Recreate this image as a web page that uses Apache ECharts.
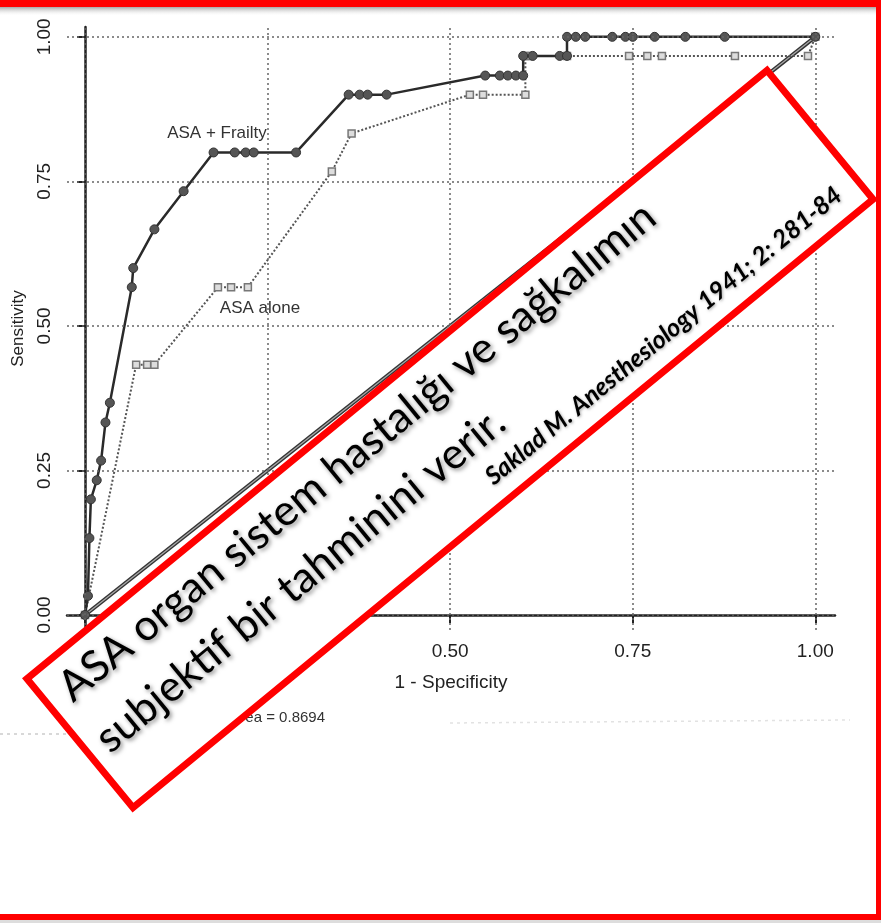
<!DOCTYPE html>
<html>
<head>
<meta charset="utf-8">
<script src="https://cdn.jsdelivr.net/npm/echarts@6/dist/echarts.min.js"></script>
<style>
html, body { margin: 0; padding: 0; background: #fff; }
#chart { width: 881px; height: 923px; }
</style>
</head>
<body>
<div id="chart"></div>
<script>
// ROC egrileri (okunan degerler)
var xTicks = [0, 0.25, 0.5, 0.75, 1];
var yTicks = [0, 0.25, 0.5, 0.75, 1];

var frailtyFpr = [0, 0.004, 0.006, 0.008, 0.016, 0.022, 0.028, 0.034, 0.064, 0.066, 0.095, 0.135,
    0.176, 0.205, 0.22, 0.231, 0.289, 0.361, 0.376, 0.387, 0.413, 0.548, 0.568, 0.579, 0.59, 0.6,
    0.6, 0.613, 0.65, 0.66, 0.66, 0.672, 0.685, 0.722, 0.74, 0.75, 0.78, 0.822, 0.876, 1.0];
var frailtySens = [0, 0.033, 0.133, 0.2, 0.233, 0.267, 0.333, 0.367, 0.567, 0.6, 0.667, 0.733,
    0.8, 0.8, 0.8, 0.8, 0.8, 0.9, 0.9, 0.9, 0.9, 0.933, 0.933, 0.933, 0.933, 0.933,
    0.967, 0.967, 0.967, 0.967, 1.0, 1.0, 1.0, 1.0, 1.0, 1.0, 1.0, 1.0, 1.0, 1.0];

var asaFpr = [0, 0.07, 0.085, 0.095, 0.182, 0.2, 0.223, 0.338, 0.365, 0.527, 0.545, 0.603,
    0.603, 0.61, 0.66, 0.745, 0.77, 0.79, 0.89, 0.99, 1.0];
var asaSens = [0, 0.433, 0.433, 0.433, 0.567, 0.567, 0.567, 0.767, 0.833, 0.9, 0.9, 0.9,
    0.967, 0.967, 0.967, 0.967, 0.967, 0.967, 0.967, 0.967, 1.0];

var diagX = [0, 1];
var diagY = [0, 1];

function pairs(xs, ys) {
    return xs.map(function (x, i) { return [x, ys[i]]; });
}

var gridMarks = xTicks.map(function (v) { return { xAxis: v }; })
    .concat(yTicks.map(function (v) { return { yAxis: v }; }));

var chart = echarts.init(document.getElementById('chart'));
var axisFont = 'Liberation Sans, Arial, sans-serif';
var boxFont = 'Lato, "Open Sans", sans-serif';
var shadow = { textShadowColor: 'rgba(0,0,0,0.45)', textShadowBlur: 4, textShadowOffsetX: 2, textShadowOffsetY: 2 };

var option = {
    animation: false,
    backgroundColor: '#fff',
    grid: { left: 67, right: 46, top: 27, bottom: 293 },
    xAxis: {
        type: 'value',
        min: -0.0247,
        max: 1.027,
        name: '1 - Specificity',
        nameLocation: 'middle',
        nameGap: 43,
        nameTextStyle: { fontSize: 19, color: '#222', fontFamily: axisFont },
        axisLine: { lineStyle: { color: '#222', width: 2.5 } },
        axisTick: { customValues: xTicks, length: 8, lineStyle: { color: '#222', width: 2 } },
        axisLabel: {
            customValues: xTicks, margin: 12, fontSize: 19, color: '#222', fontFamily: axisFont,
            formatter: function (v) { return v.toFixed(2); }
        },
        splitLine: { show: false }
    },
    yAxis: {
        type: 'value',
        min: -0.026,
        max: 1.017,
        name: 'Sensitivity',
        nameLocation: 'middle',
        nameRotate: 90,
        nameGap: 39,
        nameTextStyle: { fontSize: 17, color: '#222', fontFamily: axisFont },
        axisLine: { lineStyle: { color: '#222', width: 2.5 } },
        axisTick: { customValues: yTicks, length: 8, lineStyle: { color: '#222', width: 2 } },
        axisLabel: {
            customValues: yTicks, rotate: 90, margin: 13, fontSize: 19, color: '#222', fontFamily: axisFont,
            formatter: function (v) { return v.toFixed(2); }
        },
        splitLine: { show: false }
    },
    series: [
        {
            type: 'line',
            data: pairs(diagX, diagY),
            symbol: 'none',
            lineStyle: { color: '#333', width: 4 },
            silent: true,
            markLine: {
                silent: true,
                symbol: ['none', 'none'],
                label: { show: false },
                lineStyle: { color: '#666', width: 1.5, type: [2, 3] },
                data: gridMarks
            },
            z: 1
        },
        {
            type: 'line',
            data: pairs(diagX, diagY),
            symbol: 'none',
            lineStyle: { color: '#aaa', width: 1.2 },
            silent: true,
            z: 2
        },
        {
            name: 'ASA alone',
            type: 'line',
            data: pairs(asaFpr, asaSens),
            symbol: 'rect',
            symbolSize: 7,
            showAllSymbol: true,
            itemStyle: { color: '#ddd', borderColor: '#777', borderWidth: 1.5 },
            lineStyle: { color: '#555', width: 2, type: [2, 2] },
            z: 3
        },
        {
            name: 'ASA + Frailty',
            type: 'line',
            data: pairs(frailtyFpr, frailtySens),
            symbol: 'circle',
            symbolSize: 9,
            showAllSymbol: true,
            itemStyle: { color: '#555', borderColor: '#333', borderWidth: 1 },
            lineStyle: { color: '#2a2a2a', width: 2.5 },
            z: 4
        }
    ],
    graphic: [
        // curve labels
        { type: 'text', x: 217, y: 133, z: 10, style: { text: 'ASA + Frailty', fontSize: 17, fontFamily: axisFont, fill: '#333', align: 'center', verticalAlign: 'middle' } },
        { type: 'text', x: 260, y: 308, z: 10, style: { text: 'ASA alone', fontSize: 17, fontFamily: axisFont, fill: '#333', align: 'center', verticalAlign: 'middle' } },
        { type: 'text', x: 325, y: 718, z: 10, style: { text: 'ROC area = 0.8694', fontSize: 15, fontFamily: axisFont, fill: '#333', align: 'right', verticalAlign: 'middle' } },
        // scan noise
        { type: 'line', z: 5, shape: { x1: 0, y1: 734, x2: 200, y2: 734 }, style: { stroke: '#ccc', lineWidth: 1.5, lineDash: [3, 4] } },
        { type: 'line', z: 5, shape: { x1: 450, y1: 723, x2: 850, y2: 720 }, style: { stroke: '#e2e2e2', lineWidth: 1.5, lineDash: [3, 4] } },
        // slide frame
        { type: 'rect', z: 20, shape: { x: 0, y: 7, width: 881, height: 9 },
          style: { fill: new echarts.graphic.LinearGradient(0, 0, 0, 1, [{ offset: 0, color: '#a8a8a8' }, { offset: 1, color: 'rgba(255,255,255,0)' }]) } },
        { type: 'rect', z: 21, shape: { x: 0, y: 0, width: 881, height: 7 }, style: { fill: '#ff0000' } },
        { type: 'rect', z: 21, shape: { x: 876, y: 0, width: 5, height: 923 }, style: { fill: '#ff0000' } },
        { type: 'rect', z: 21, shape: { x: 0, y: 914, width: 881, height: 6 }, style: { fill: '#ff0000' } },
        { type: 'rect', z: 21, shape: { x: 0, y: 920, width: 881, height: 3 }, style: { fill: '#ddd' } },
        // rotated note box
        {
            type: 'group',
            x: 450,
            y: 439,
            rotation: 0.688,
            children: [
                { type: 'rect', z: 30, shape: { x: -479, y: -83.5, width: 958, height: 167 },
                  style: { fill: '#fff', stroke: '#ff0000', lineWidth: 7 } },
                { type: 'text', z: 31, x: -459, y: -49,
                  style: Object.assign({ text: 'ASA organ sistem hastalığı ve sağkalımın', fontSize: 43, fontFamily: boxFont, fill: '#000',
                           verticalAlign: 'middle', align: 'left' }, shadow) },
                { type: 'text', z: 31, x: -463, y: 14,
                  style: Object.assign({ text: 'subjektif bir tahminini verir.', fontSize: 43, fontFamily: boxFont, fill: '#000',
                           verticalAlign: 'middle', align: 'left' }, shadow) },
                { type: 'text', z: 31, x: 457, y: 56,
                  style: { text: 'Saklad M. Anesthesiology 1941; 2: 281-84', fontSize: 25, fontFamily: boxFont, fontWeight: 'bold', fontStyle: 'italic', fill: '#000',
                           verticalAlign: 'middle', align: 'right',
                           textShadowColor: 'rgba(0,0,0,0.35)', textShadowBlur: 3, textShadowOffsetX: 1, textShadowOffsetY: 1 } }
            ]
        }
    ]
};

chart.setOption(option);
</script>
</body>
</html>
